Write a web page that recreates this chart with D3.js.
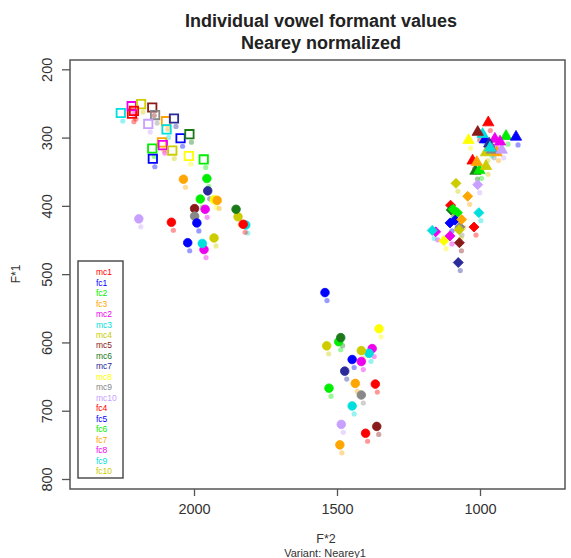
<!DOCTYPE html>
<html>
<head>
<meta charset="utf-8">
<script src="https://cdn.jsdelivr.net/npm/d3@7"></script>
<style>
  body { margin: 0; background: #fff; }
  text { font-family: "Liberation Sans", Arial, sans-serif; }
</style>
</head>
<body>
<svg id="chart"></svg>
<script>
// speakers in legend order
var speakers = ["mc1","fc1","fc2","fc3","mc2","mc3","mc4","mc5","mc6","mc7",
                "mc8","mc9","mc10","fc4","fc5","fc6","fc7","fc8","fc9","fc10"];

// normalized formants per vowel, one value per speaker (same order)
var iF2 = [2217,2047,2146,2098,2218,2256,2185,2146,2016,2070,2018,2136,2160,2210,2144,1966,2112,2109,2096,2076];
var iF1 = [265,301,316,276,254,264,251,256,295,272,327,267,280,261,331,332,307,311,288,319];
var eF2 = [2079,2022,1955,2037,1961,1819,1846,1998,1853,1952,1929,1998,2193,1828,1990,1978,1919,1965,1971,1930];
var eF1 = [424,454,360,361,405,428,416,404,405,378,391,415,419,427,425,390,392,464,455,447];
var aF2 = [1366,1542,1494,1436,1377,1388,1536,1361,1487,1473,1353,1415,1485,1400,1447,1528,1490,1415,1447,1415];
var aF1 = [661,527,599,660,609,616,605,723,593,642,580,677,720,733,625,667,750,628,693,612];
var uF2 = [971,983,909,942,948,991,979,1008,1016,968,1040,958,924,1026,874,1002,1011,930,965,979];
var uF1 = [278,303,298,322,302,295,322,292,349,309,304,318,318,334,299,348,336,306,315,342];
var oF2 = [1103,1105,1079,1043,1155,1167,1084,1072,1101,1076,1126,1070,1008,1021,1087,1094,1064,1105,1004,1073];
var oF1 = [399,425,410,386,438,436,367,454,406,483,451,431,369,431,421,405,420,444,410,435];

var xTicks = [2000, 1500, 1000];
var yTicks = [200, 300, 400, 500, 600, 700, 800];

var palette = ["#ff0000","#0000ff","#00ee00","#ffa500","#ee00ee","#00dede","#cccc00",
               "#8b1a1a","#1a7a1a","#2a2a9a","#ffff00","#888888","#c8a0ff",
               "#ff0000","#0000ff","#00ee00","#ffa500","#ee00ee","#00dede","#cccc00"];

var W = 571, H = 558;
var box = { left: 70, top: 60, right: 565, bottom: 489 };

var svg = d3.select("#chart").attr("width", W).attr("height", H);

var x = d3.scaleLinear().domain([2000, 1000]).range([194, 480]);
var y = d3.scaleLinear().domain([200, 800]).range([69.3, 479]);
var color = d3.scaleOrdinal().domain(speakers).range(palette);

// title
svg.append("text").attr("x", 321).attr("y", 27).attr("text-anchor", "middle")
  .style("font-weight", "bold").style("font-size", "18px").attr("fill", "#222")
  .text("Individual vowel formant values");
svg.append("text").attr("x", 321).attr("y", 48.5).attr("text-anchor", "middle")
  .style("font-weight", "bold").style("font-size", "18px").attr("fill", "#222")
  .text("Nearey normalized");

// axes
var xAxis = svg.append("g").attr("transform", "translate(0," + box.bottom + ")")
  .call(d3.axisBottom(x).tickValues(xTicks).tickFormat(d3.format("d")).tickSize(7).tickPadding(8));
var yAxis = svg.append("g").attr("transform", "translate(" + box.left + ",0)")
  .call(d3.axisLeft(y).tickValues(yTicks).tickFormat(d3.format("d")).tickSize(8).tickPadding(6));
[xAxis, yAxis].forEach(function(g) {
  g.select(".domain").remove();
  g.selectAll("line").attr("stroke", "#555").attr("stroke-width", 1.3);
  g.selectAll("text").attr("fill", "#333").style("font-size", "14.5px")
    .style("font-family", "Liberation Sans, Arial, sans-serif");
});
yAxis.selectAll("text")
  .attr("x", -23).attr("y", 0).attr("dy", "0.35em")
  .attr("text-anchor", "middle")
  .attr("transform", "rotate(-90,-23,0)");

// plot box
svg.append("rect")
  .attr("x", box.left).attr("y", box.top)
  .attr("width", box.right - box.left).attr("height", box.bottom - box.top)
  .attr("fill", "none").attr("stroke", "#555").attr("stroke-width", 1.5);

// axis titles
svg.append("text").attr("x", 326).attr("y", 543).attr("text-anchor", "middle")
  .style("font-size", "12.5px").attr("fill", "#333").text("F*2");
svg.append("text").attr("x", 325).attr("y", 557).attr("text-anchor", "middle")
  .style("font-size", "11px").attr("fill", "#333").text("Variant: Nearey1");
svg.append("text").attr("transform", "translate(20,274) rotate(-90)")
  .attr("text-anchor", "middle").style("font-size", "12px").attr("fill", "#333").text("F*1");

// points
var vowels = [
  { f2: iF2, f1: iF1, shape: d3.symbolSquare, size: 70, open: true, rot: 0 },
  { f2: eF2, f1: eF1, shape: d3.symbolCircle, size: 58, open: false, rot: 0 },
  { f2: aF2, f1: aF1, shape: d3.symbolCircle, size: 58, open: false, rot: 0 },
  { f2: uF2, f1: uF1, shape: d3.symbolTriangle, size: 55, open: false, rot: 0 },
  { f2: oF2, f1: oF1, shape: d3.symbolSquare, size: 50, open: false, rot: 45 }
];

var pts = svg.append("g");
vowels.forEach(function(v) {
  var rows = speakers.map(function(s, i) { return { spk: s, f2: v.f2[i], f1: v.f1[i] }; });
  // faded label marks under each point
  pts.append("g").selectAll("circle").data(rows).enter().append("circle")
    .attr("cx", function(d) { return x(d.f2) + 2; })
    .attr("cy", function(d) { return y(d.f1) + 8; })
    .attr("r", 2.6)
    .attr("fill", function(d) { return color(d.spk); })
    .attr("opacity", 0.4);
  pts.append("g").selectAll("path").data(rows).enter().append("path")
    .attr("d", d3.symbol().type(v.shape).size(v.size))
    .attr("transform", function(d) {
      return "translate(" + x(d.f2) + "," + y(d.f1) + ") rotate(" + v.rot + ")";
    })
    .attr("fill", function(d) { return v.open ? "none" : color(d.spk); })
    .attr("stroke", function(d) { return color(d.spk); })
    .attr("stroke-width", v.open ? 1.8 : 0.8);
});

// legend
var leg = svg.append("g");
leg.append("rect").attr("x", 78).attr("y", 261).attr("width", 45).attr("height", 217)
  .attr("fill", "#fff").attr("stroke", "#444").attr("stroke-width", 1.4);
leg.selectAll("text").data(speakers).enter().append("text")
  .attr("x", 96).attr("y", function(d, i) { return 272.3 + i * 10.46; })
  .attr("dy", "0.35em")
  .style("font-size", "8.5px")
  .attr("fill", function(d) { return color(d); })
  .text(function(d) { return d; });
</script>
</body>
</html>
